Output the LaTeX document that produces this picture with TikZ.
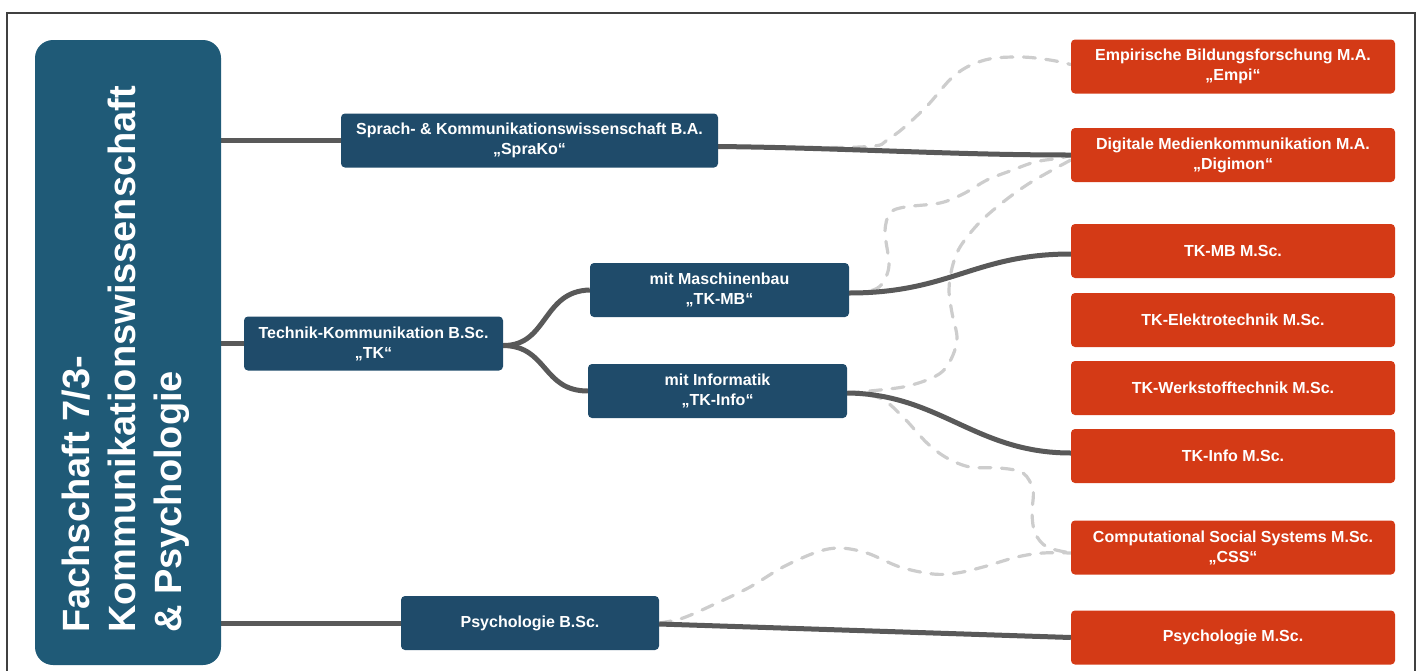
\documentclass[tikz,border=0pt]{standalone}
\usepackage{fontspec}
\setmainfont{Liberation Sans}
\usetikzlibrary{calc}

\definecolor{titleblue}{HTML}{1F5A77}
\definecolor{progblue}{HTML}{1F4B6A}
\definecolor{masterred}{HTML}{D43A16}
\definecolor{linegray}{HTML}{595959}
\definecolor{dashgray}{HTML}{CDCDCD}
\definecolor{framegray}{HTML}{404040}

\pgfdeclarelayer{dashes}
\pgfdeclarelayer{links}
\pgfsetlayers{dashes,links,main}

\begin{document}
\begin{tikzpicture}[x=1pt,y=-1pt,
  box/.style={rectangle, rounded corners=4pt, inner sep=0pt, align=center,
    text=white, font=\bfseries\fontsize{16}{20}\selectfont},
  prog/.style={box, fill=progblue, minimum height=54pt},
  master/.style={box, fill=masterred, minimum width=324pt, minimum height=54pt},
  link/.style={draw=linegray, line width=5pt},
  option/.style={draw=dashgray, line width=3.2pt, line cap=round,
    dash pattern=on 12pt off 10.5pt},
]
\useasboundingbox (0,0) rectangle (1419,670);

% outer frame (open at the bottom)
\draw[framegray, line width=1.5pt] (7,675) -- (7,13) -- (1415,13) -- (1415,675);

% faculty box
\node[rectangle, rounded corners=18pt, fill=titleblue, minimum width=186pt,
  minimum height=625pt, inner sep=0pt] (fs) at (128,352.5) {};
\node[rotate=90, anchor=north west, inner sep=0pt, align=left, text=white,
  font=\bfseries\fontsize{38}{46}\selectfont] (fstext) at (62,633)
  {Fachschaft 7/3-\\Kommunikationswissenschaft\\\& Psychologie};

% bachelor programmes
\node[prog, minimum width=377pt] (spr) at (529.5,140.5)
  {Sprach- \& Kommunikationswissenschaft B.A.\\„SpraKo“};
\node[prog, minimum width=259pt] (tk) at (373.5,343.5)
  {Technik-Kommunikation B.Sc.\\„TK“};
\node[prog, minimum width=259pt] (tkmb) at (719.5,290)
  {mit Maschinenbau\\„TK-MB“};
\node[prog, minimum width=259pt] (tkinfo) at (717.5,391)
  {mit Informatik\\„TK-Info“};
\node[prog, minimum width=258pt] (psy) at (530,623) {Psychologie B.Sc.};

% master programmes
\node[master] (empi) at (1233,66.5) {Empirische Bildungsforschung M.A.\\„Empi“};
\node[master] (digi) at (1233,155) {Digitale Medienkommunikation M.A.\\„Digimon“};
\node[master] (mbm)  at (1233,251) {TK-MB M.Sc.};
\node[master] (etm)  at (1233,320) {TK-Elektrotechnik M.Sc.};
\node[master] (wsm)  at (1233,388) {TK-Werkstofftechnik M.Sc.};
\node[master] (infm) at (1233,456) {TK-Info M.Sc.};
\node[master] (css)  at (1233,547.5) {Computational Social Systems M.Sc.\\„CSS“};
\node[master] (psym) at (1233,637.5) {Psychologie M.Sc.};

% anchor points of the connectors
\coordinate (sprout) at ($(spr.east)+(0,6)$);
\coordinate (tkout) at ($(tk.east)+(0,2)$);
\coordinate (mbout) at ($(tkmb.east)+(0,3)$);
\coordinate (infout) at ($(tkinfo.east)+(0,2)$);
\coordinate (empiin) at ($(empi.west)+(0,-2)$);
\coordinate (digiin) at ($(digi.west)+(0,5)$);
\coordinate (cssin) at ($(css.west)+(0,5.5)$);

% optional (dashed) paths
\begin{pgfonlayer}{dashes}
\draw[option] plot[smooth, tension=0.6] coordinates {(sprout) (860,147) (890,138)
  (925,108) (955,75) (985,60) (1020,57) (1050,60) (empiin)};
\draw[option] plot[smooth, tension=0.55] coordinates {(mbout) (870,291) (882,284)
  (889,265) (885,232) (890,213) (905,207) (940,203) (963,194) (987,180)
  (1010,171) (1035,162) (1060,158) (digi.west)};
\draw[option] plot[smooth, tension=0.55] coordinates {(infout) (870,391) (903,387)
  (927,380) (943,371) (953,355) (957,337) (952,313) (949,290) (952,268)
  (960,247) (980,222) (1007,199) (1033,181) (digiin)};
\draw[option] plot[smooth, tension=0.55] coordinates {(infout) (880,398) (903,417)
  (927,443) (947,458) (970,467) (1000,468) (1023,473) (1033,490) (1032,513)
  (1035,533) (1047,547) (cssin)};
\draw[option] plot[smooth, tension=0.55] coordinates {(psy.east) (683,618) (717,603)
  (750,587) (783,567) (817,552) (840,548) (867,553) (900,567) (933,574)
  (957,573) (983,567) (1017,557) (1043,553) (cssin)};
\end{pgfonlayer}

% direct paths
\begin{pgfonlayer}{links}
\draw[link] (fs.east |- spr.west) -- (spr.west);
\draw[link] (sprout) .. controls (850,148) and (950,155) .. (digi.west);
\draw[link] (fs.east |- tk.west) -- (tk.west);
\draw[link] (tkout) .. controls (548,346) and (542,291) .. (tkmb.west);
\draw[link] (tkout) .. controls (548,346) and (542,391) .. (tkinfo.west);
\draw[link] (mbout) .. controls (950,293) and (975,254) .. ($(mbm.west)+(0,3)$);
\draw[link] (infout) .. controls (940,394) and (975,453) .. ($(infm.west)+(0,-3)$);
\draw[link] (fs.east |- psy.west) -- (psy.west);
\draw[link] ($(psy.east)+(0,1)$) -- (psym.west);
\end{pgfonlayer}
\end{tikzpicture}
\end{document}
